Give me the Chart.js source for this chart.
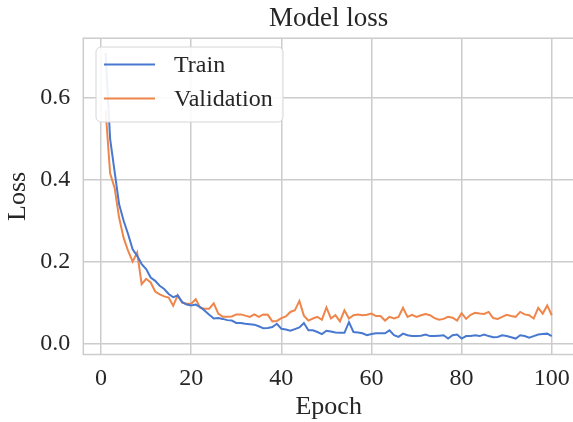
<!DOCTYPE html>
<html>
<head>
<title>Model loss</title>
<script src="https://cdn.jsdelivr.net/npm/chart.js"></script>
<style>
  html, body { margin: 0; padding: 0; background: #ffffff; }
  #wrap { width: 573px; height: 422px; overflow: hidden; position: relative; }
  canvas { display: block; }
</style>
</head>
<body>
<div id="wrap">
  <canvas id="lossChart" width="580" height="422"></canvas>
</div>

<script>
// data, epochs 1..100
var trainLoss = [
  0.71, 0.50, 0.42, 0.34, 0.30, 0.267, 0.23, 0.214, 0.194, 0.182,
  0.161, 0.153, 0.141, 0.133, 0.121, 0.113, 0.117, 0.101, 0.095, 0.093,
  0.095, 0.089, 0.080, 0.070, 0.061, 0.062, 0.060, 0.057, 0.056, 0.050,
  0.050, 0.048, 0.047, 0.046, 0.042, 0.037, 0.038, 0.040, 0.048, 0.036,
  0.034, 0.031, 0.035, 0.039, 0.050, 0.032, 0.032, 0.028, 0.023, 0.031,
  0.029, 0.027, 0.026, 0.026, 0.052, 0.028, 0.027, 0.025, 0.020, 0.023,
  0.025, 0.025, 0.025, 0.032, 0.020, 0.016, 0.024, 0.020, 0.018, 0.018,
  0.019, 0.022, 0.018, 0.018, 0.019, 0.020, 0.012, 0.020, 0.022, 0.012,
  0.018, 0.018, 0.020, 0.018, 0.022, 0.018, 0.015, 0.016, 0.020, 0.018,
  0.015, 0.012, 0.020, 0.018, 0.014, 0.018, 0.022, 0.023, 0.024, 0.018
];
var valLoss = [
  0.57, 0.416, 0.38, 0.307, 0.258, 0.226, 0.200, 0.222, 0.145, 0.158,
  0.149, 0.127, 0.120, 0.115, 0.112, 0.092, 0.118, 0.100, 0.097, 0.097,
  0.108, 0.087, 0.085, 0.085, 0.098, 0.073, 0.065, 0.065, 0.066, 0.071,
  0.071, 0.068, 0.065, 0.071, 0.065, 0.071, 0.070, 0.054, 0.055, 0.062,
  0.066, 0.077, 0.081, 0.104, 0.068, 0.056, 0.061, 0.065, 0.058, 0.088,
  0.061, 0.069, 0.054, 0.081, 0.061, 0.069, 0.071, 0.069, 0.070, 0.073,
  0.067, 0.067, 0.056, 0.065, 0.061, 0.065, 0.087, 0.065, 0.070, 0.065,
  0.069, 0.072, 0.069, 0.062, 0.058, 0.060, 0.065, 0.063, 0.056, 0.074,
  0.060, 0.070, 0.075, 0.073, 0.072, 0.077, 0.062, 0.060, 0.065, 0.070,
  0.067, 0.065, 0.077, 0.071, 0.069, 0.061, 0.087, 0.073, 0.093, 0.069
];
var seriesNames = ["Train", "Validation"];
var xTicks = [0, 20, 40, 60, 80, 100];
var yTicks = [0.0, 0.2, 0.4, 0.6];

var epochs = [];
for (var i = 0; i < trainLoss.length; i++) epochs.push(i + 1);

var FONT = "'Liberation Serif', 'Times New Roman', serif";
var TEXT = "#262626";
var GRID = "#cccccc";
var colors = ["#4878d0", "#ee854a"];

function toPoints(vals) {
  return vals.map(function (v, i) { return { x: epochs[i], y: v }; });
}

// frame round the plot area (seaborn whitegrid spines)
var framePlugin = {
  id: "frame",
  beforeDatasetsDraw: function (chart) {
    var a = chart.chartArea, ctx = chart.ctx;
    ctx.save();
    ctx.strokeStyle = GRID;
    ctx.lineWidth = 1.5;
    ctx.strokeRect(a.left, a.top, a.right - a.left, a.bottom - a.top);
    ctx.restore();
  }
};

// matplotlib-like legend box in the upper left
var legendBox = {
  id: "legendBox",
  afterDatasetsDraw: function (chart) {
    var ctx = chart.ctx;
    var x = 96, y = 47, w = 187, h = 75, r = 5;
    ctx.save();
    ctx.beginPath();
    ctx.moveTo(x + r, y);
    ctx.arcTo(x + w, y, x + w, y + h, r);
    ctx.arcTo(x + w, y + h, x, y + h, r);
    ctx.arcTo(x, y + h, x, y, r);
    ctx.arcTo(x, y, x + w, y, r);
    ctx.closePath();
    ctx.fillStyle = "rgba(255,255,255,0.9)";
    ctx.fill();
    ctx.strokeStyle = "#d6d6d6";
    ctx.lineWidth = 1;
    ctx.stroke();

    ctx.font = "24px " + FONT;
    ctx.textBaseline = "middle";
    ctx.fillStyle = TEXT;
    chart.data.datasets.forEach(function (ds, k) {
      var ly = 64.5 + k * 34;
      ctx.beginPath();
      ctx.strokeStyle = ds.borderColor;
      ctx.lineWidth = 2;
      ctx.moveTo(104, ly);
      ctx.lineTo(155, ly);
      ctx.stroke();
      ctx.fillText(ds.label, 174, ly + 1);
    });
    ctx.restore();
  }
};

var ctx = document.getElementById("lossChart").getContext("2d");
var chart = new Chart(ctx, {
  type: "line",
  data: {
    datasets: [
      {
        label: seriesNames[0],
        data: toPoints(trainLoss),
        borderColor: colors[0],
        backgroundColor: colors[0],
        borderWidth: 2,
        pointRadius: 0,
        tension: 0
      },
      {
        label: seriesNames[1],
        data: toPoints(valLoss),
        borderColor: colors[1],
        backgroundColor: colors[1],
        borderWidth: 2,
        pointRadius: 0,
        tension: 0
      }
    ]
  },
  options: {
    responsive: false,
    animation: false,
    devicePixelRatio: 1,
    layout: { padding: { left: 0, right: 5, top: 0, bottom: 0 } },
    plugins: {
      legend: { display: false },
      tooltip: { enabled: false },
      title: {
        display: true,
        text: "Model loss",
        fullSize: false,
        color: TEXT,
        font: { family: FONT, size: 27, weight: "normal" },
        lineHeight: 1.1,
        padding: { top: 3, bottom: 2.8 }
      }
    },
    scales: {
      x: {
        type: "linear",
        min: -3.95,
        max: 104.95,
        afterBuildTicks: function (s) {
          s.ticks = xTicks.map(function (v) { return { value: v }; });
        },
        afterFit: function (s) { s.height = 67.5; },
        grid: { color: GRID, lineWidth: 1.5, drawTicks: false },
        border: { display: false },
        ticks: {
          color: TEXT,
          padding: 10,
          maxRotation: 0,
          font: { family: FONT, size: 24 }
        },
        title: {
          display: true,
          text: "Epoch",
          color: TEXT,
          font: { family: FONT, size: 26 },
          padding: { top: 0, bottom: -1 }
        }
      },
      y: {
        min: -0.027,
        max: 0.746,
        afterBuildTicks: function (s) {
          s.ticks = yTicks.map(function (v) { return { value: v }; });
        },
        afterFit: function (s) { s.width = 83.3; },
        grid: { color: GRID, lineWidth: 1.5, drawTicks: false },
        border: { display: false },
        ticks: {
          color: TEXT,
          padding: 13,
          font: { family: FONT, size: 24 },
          callback: function (v) { return Number(v).toFixed(1); }
        },
        title: {
          display: true,
          text: "Loss",
          color: TEXT,
          font: { family: FONT, size: 26 },
          padding: { top: 3, bottom: 0 }
        }
      }
    }
  },
  plugins: [framePlugin, legendBox]
});
</script>
</body>
</html>
